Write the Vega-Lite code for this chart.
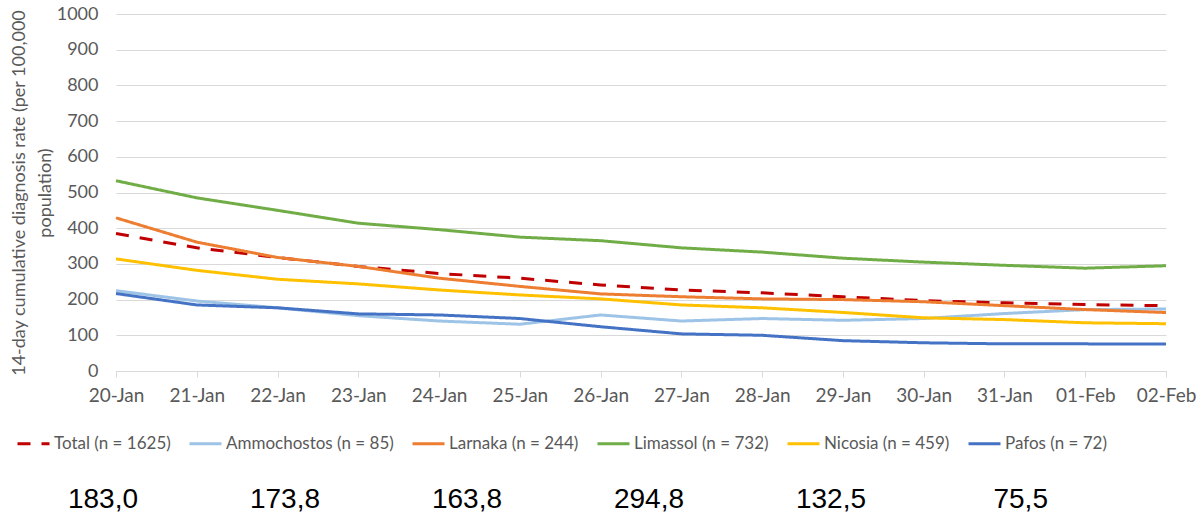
{
  "$schema": "https://vega.github.io/schema/vega-lite/v6.json",
  "background": "white",
  "padding": {"left": 10, "top": 5, "right": 10, "bottom": 0},
  "config": {
    "view": {"stroke": null},
    "font": "Lato",
    "concat": {"spacing": 75},
    "legend": {
      "orient": "none",
      "legendX": -100,
      "legendY": 412,
      "direction": "horizontal",
      "columns": 6,
      "symbolType": "stroke",
      "symbolSize": 1024,
      "symbolStrokeWidth": 3,
      "labelFontSize": 17,
      "labelColor": "#595959",
      "labelOffset": 3,
      "columnPadding": 12,
      "labelLimit": 400,
      "title": null
    }
  },
  "datasets": {
    "rates": [
      {"day": "20-Jan", "series": "Total (n = 1625)", "value": 385},
      {"day": "21-Jan", "series": "Total (n = 1625)", "value": 345},
      {"day": "22-Jan", "series": "Total (n = 1625)", "value": 318},
      {"day": "23-Jan", "series": "Total (n = 1625)", "value": 293},
      {"day": "24-Jan", "series": "Total (n = 1625)", "value": 273},
      {"day": "25-Jan", "series": "Total (n = 1625)", "value": 260},
      {"day": "26-Jan", "series": "Total (n = 1625)", "value": 241},
      {"day": "27-Jan", "series": "Total (n = 1625)", "value": 227},
      {"day": "28-Jan", "series": "Total (n = 1625)", "value": 219},
      {"day": "29-Jan", "series": "Total (n = 1625)", "value": 208},
      {"day": "30-Jan", "series": "Total (n = 1625)", "value": 197},
      {"day": "31-Jan", "series": "Total (n = 1625)", "value": 191},
      {"day": "01-Feb", "series": "Total (n = 1625)", "value": 186},
      {"day": "02-Feb", "series": "Total (n = 1625)", "value": 183.0},
      {"day": "20-Jan", "series": "Ammochostos (n = 85)", "value": 225},
      {"day": "21-Jan", "series": "Ammochostos (n = 85)", "value": 196},
      {"day": "22-Jan", "series": "Ammochostos (n = 85)", "value": 177},
      {"day": "23-Jan", "series": "Ammochostos (n = 85)", "value": 155},
      {"day": "24-Jan", "series": "Ammochostos (n = 85)", "value": 140},
      {"day": "25-Jan", "series": "Ammochostos (n = 85)", "value": 131},
      {"day": "26-Jan", "series": "Ammochostos (n = 85)", "value": 157},
      {"day": "27-Jan", "series": "Ammochostos (n = 85)", "value": 140},
      {"day": "28-Jan", "series": "Ammochostos (n = 85)", "value": 147},
      {"day": "29-Jan", "series": "Ammochostos (n = 85)", "value": 142},
      {"day": "30-Jan", "series": "Ammochostos (n = 85)", "value": 147},
      {"day": "31-Jan", "series": "Ammochostos (n = 85)", "value": 161},
      {"day": "01-Feb", "series": "Ammochostos (n = 85)", "value": 172},
      {"day": "02-Feb", "series": "Ammochostos (n = 85)", "value": 173.8},
      {"day": "20-Jan", "series": "Larnaka (n = 244)", "value": 429},
      {"day": "21-Jan", "series": "Larnaka (n = 244)", "value": 361},
      {"day": "22-Jan", "series": "Larnaka (n = 244)", "value": 318},
      {"day": "23-Jan", "series": "Larnaka (n = 244)", "value": 293},
      {"day": "24-Jan", "series": "Larnaka (n = 244)", "value": 260},
      {"day": "25-Jan", "series": "Larnaka (n = 244)", "value": 237},
      {"day": "26-Jan", "series": "Larnaka (n = 244)", "value": 216},
      {"day": "27-Jan", "series": "Larnaka (n = 244)", "value": 208},
      {"day": "28-Jan", "series": "Larnaka (n = 244)", "value": 202},
      {"day": "29-Jan", "series": "Larnaka (n = 244)", "value": 200},
      {"day": "30-Jan", "series": "Larnaka (n = 244)", "value": 194},
      {"day": "31-Jan", "series": "Larnaka (n = 244)", "value": 183},
      {"day": "01-Feb", "series": "Larnaka (n = 244)", "value": 172},
      {"day": "02-Feb", "series": "Larnaka (n = 244)", "value": 163.8},
      {"day": "20-Jan", "series": "Limassol (n = 732)", "value": 533},
      {"day": "21-Jan", "series": "Limassol (n = 732)", "value": 485},
      {"day": "22-Jan", "series": "Limassol (n = 732)", "value": 450},
      {"day": "23-Jan", "series": "Limassol (n = 732)", "value": 414},
      {"day": "24-Jan", "series": "Limassol (n = 732)", "value": 396},
      {"day": "25-Jan", "series": "Limassol (n = 732)", "value": 375},
      {"day": "26-Jan", "series": "Limassol (n = 732)", "value": 365},
      {"day": "27-Jan", "series": "Limassol (n = 732)", "value": 345},
      {"day": "28-Jan", "series": "Limassol (n = 732)", "value": 333},
      {"day": "29-Jan", "series": "Limassol (n = 732)", "value": 316},
      {"day": "30-Jan", "series": "Limassol (n = 732)", "value": 305},
      {"day": "31-Jan", "series": "Limassol (n = 732)", "value": 296},
      {"day": "01-Feb", "series": "Limassol (n = 732)", "value": 288},
      {"day": "02-Feb", "series": "Limassol (n = 732)", "value": 294.8},
      {"day": "20-Jan", "series": "Nicosia (n = 459)", "value": 314},
      {"day": "21-Jan", "series": "Nicosia (n = 459)", "value": 282},
      {"day": "22-Jan", "series": "Nicosia (n = 459)", "value": 257},
      {"day": "23-Jan", "series": "Nicosia (n = 459)", "value": 244},
      {"day": "24-Jan", "series": "Nicosia (n = 459)", "value": 227},
      {"day": "25-Jan", "series": "Nicosia (n = 459)", "value": 213},
      {"day": "26-Jan", "series": "Nicosia (n = 459)", "value": 202},
      {"day": "27-Jan", "series": "Nicosia (n = 459)", "value": 185},
      {"day": "28-Jan", "series": "Nicosia (n = 459)", "value": 177},
      {"day": "29-Jan", "series": "Nicosia (n = 459)", "value": 164},
      {"day": "30-Jan", "series": "Nicosia (n = 459)", "value": 149},
      {"day": "31-Jan", "series": "Nicosia (n = 459)", "value": 144},
      {"day": "01-Feb", "series": "Nicosia (n = 459)", "value": 135},
      {"day": "02-Feb", "series": "Nicosia (n = 459)", "value": 132.5},
      {"day": "20-Jan", "series": "Pafos (n = 72)", "value": 217},
      {"day": "21-Jan", "series": "Pafos (n = 72)", "value": 185},
      {"day": "22-Jan", "series": "Pafos (n = 72)", "value": 177},
      {"day": "23-Jan", "series": "Pafos (n = 72)", "value": 160},
      {"day": "24-Jan", "series": "Pafos (n = 72)", "value": 157},
      {"day": "25-Jan", "series": "Pafos (n = 72)", "value": 147},
      {"day": "26-Jan", "series": "Pafos (n = 72)", "value": 124},
      {"day": "27-Jan", "series": "Pafos (n = 72)", "value": 104},
      {"day": "28-Jan", "series": "Pafos (n = 72)", "value": 100},
      {"day": "29-Jan", "series": "Pafos (n = 72)", "value": 85},
      {"day": "30-Jan", "series": "Pafos (n = 72)", "value": 79},
      {"day": "31-Jan", "series": "Pafos (n = 72)", "value": 76},
      {"day": "01-Feb", "series": "Pafos (n = 72)", "value": 76},
      {"day": "02-Feb", "series": "Pafos (n = 72)", "value": 75.5}
    ],
    "latest": [
      {"region": "Total", "label": "183,0"},
      {"region": "Ammochostos", "label": "173,8"},
      {"region": "Larnaka", "label": "163,8"},
      {"region": "Limassol", "label": "294,8"},
      {"region": "Nicosia", "label": "132,5"},
      {"region": "Pafos", "label": "75,5"}
    ]
  },
  "vconcat": [
    {
      "width": 1050,
      "height": 357,
      "data": {"name": "rates"},
      "mark": {"type": "line", "strokeWidth": 3, "strokeCap": "butt"},
      "encoding": {
        "x": {
          "field": "day",
          "type": "ordinal",
          "sort": ["20-Jan", "21-Jan", "22-Jan", "23-Jan", "24-Jan", "25-Jan", "26-Jan", "27-Jan", "28-Jan", "29-Jan", "30-Jan", "31-Jan", "01-Feb", "02-Feb"],
          "scale": {"type": "point", "padding": 0},
          "axis": {
            "title": null,
            "labelAngle": 0,
            "labelFontSize": 19,
            "labelColor": "#595959",
            "domainColor": "#d9d9d9",
            "tickColor": "#d9d9d9",
            "tickSize": 6,
            "labelPadding": 9,
            "grid": false
          }
        },
        "y": {
          "field": "value",
          "type": "quantitative",
          "scale": {"domain": [0, 1000]},
          "axis": {
            "values": [0, 100, 200, 300, 400, 500, 600, 700, 800, 900, 1000],
            "format": "d",
            "title": ["14-day cumulative diagnosis rate (per 100,000", "population)"],
            "titleFontSize": 18,
            "titleFontWeight": "normal",
            "titleColor": "#595959",
            "titleLineHeight": 26,
            "titlePadding": 2,
            "labelFontSize": 18,
            "labelColor": "#595959",
            "ticks": false,
            "labelPadding": 18,
            "domain": false,
            "gridColor": "#d9d9d9"
          }
        },
        "color": {
          "field": "series",
          "type": "nominal",
          "scale": {
            "domain": ["Total (n = 1625)", "Ammochostos (n = 85)", "Larnaka (n = 244)", "Limassol (n = 732)", "Nicosia (n = 459)", "Pafos (n = 72)"],
            "range": ["#c00000", "#9dc3e6", "#ed7d31", "#70ad47", "#ffc000", "#4472c4"]
          },
          "legend": {"title": null}
        },
        "strokeDash": {
          "field": "series",
          "type": "nominal",
          "scale": {
            "domain": ["Total (n = 1625)", "Ammochostos (n = 85)", "Larnaka (n = 244)", "Limassol (n = 732)", "Nicosia (n = 459)", "Pafos (n = 72)"],
            "range": [[13, 11], [1, 0], [1, 0], [1, 0], [1, 0], [1, 0]]
          },
          "legend": {"title": null}
        }
      }
    },
    {
      "width": 954,
      "height": 40,
      "data": {"name": "latest"},
      "mark": {"type": "text", "font": "Liberation Sans", "fontSize": 28, "align": "right", "baseline": "middle", "color": "black"},
      "encoding": {
        "x": {"field": "region", "type": "nominal", "sort": null, "scale": {"type": "point", "padding": 0.121}, "axis": null},
        "text": {"field": "label", "type": "nominal"}
      }
    }
  ]
}
